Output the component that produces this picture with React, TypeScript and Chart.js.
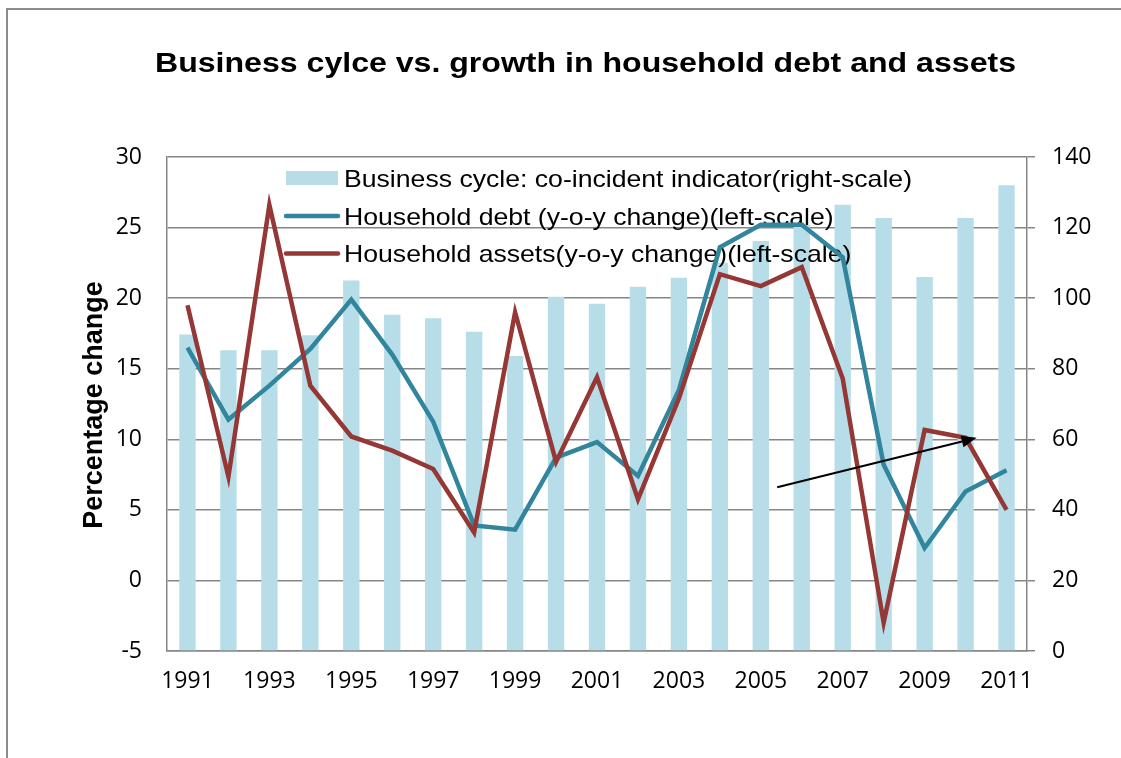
import React, { useEffect, useRef } from "react";
import { Chart, registerables } from "chart.js";

Chart.register(...registerables);

const years = ["1991","1992","1993","1994","1995","1996","1997","1998","1999","2000","2001","2002","2003","2004","2005","2006","2007","2008","2009","2010","2011"];
const cycleIndicator = [89.7, 85.2, 85.2, 89.5, 105, 95.3, 94.3, 90.5, 83.6, 100.4, 98.4, 103.2, 105.8, 110, 116.2, 120.7, 126.5, 122.7, 106, 122.7, 132];
const debtGrowth = [16.5, 11.4, 13.8, 16.4, 19.9, 16.0, 11.25, 3.9, 3.6, 8.7, 9.8, 7.4, 13.5, 23.6, 25.2, 25.2, 22.9, 8.2, 2.3, 6.3, 7.8];
const assetsGrowth = [19.5, 7.35, 26.6, 13.8, 10.2, 9.2, 7.9, 3.4, 19.0, 8.4, 14.4, 5.75, 12.9, 21.7, 20.85, 22.2, 14.3, -3.0, 10.66, 10.1, 5.0];
// arrow annotation in data space: [category index, left-scale value]
const arrowFrom = [14.4, 6.6];
const arrowTo = [19.27, 10.1];

const TITLE = "Business cylce vs. growth in household debt and assets";
const LEGEND_LABELS = [
  "Business cycle: co-incident indicator(right-scale)",
  "Household debt (y-o-y change)(left-scale)",
  "Household assets(y-o-y change)(left-scale)",
];
const BAR_COLOR = "#B7DEE8";
const DEBT_COLOR = "#31859C";
const ASSET_COLOR = "#953735";
const GRID = "#868686";

function stretchText(ctx: CanvasRenderingContext2D, text: string, x: number, y: number, sx: number) {
  ctx.save();
  ctx.translate(x, y);
  ctx.scale(sx, 1);
  ctx.fillText(text, 0, 0);
  ctx.restore();
}

const decorPlugin = {
  id: "decor",
  beforeDraw(chart: any) {
    const ctx = chart.ctx as CanvasRenderingContext2D;
    ctx.save();
    ctx.fillStyle = "#fff";
    ctx.fillRect(0, 0, chart.width, chart.height);
    // frame
    ctx.strokeStyle = "#8c8c8c";
    ctx.lineWidth = 2;
    ctx.beginPath();
    ctx.moveTo(7, chart.height);
    ctx.lineTo(7, 9);
    ctx.lineTo(chart.width, 9);
    ctx.stroke();
    // title
    ctx.fillStyle = "#000";
    ctx.font = "bold 27px 'Liberation Sans', Arial, sans-serif";
    ctx.textBaseline = "alphabetic";
    ctx.textAlign = "left";
    const tw = ctx.measureText(TITLE).width;
    stretchText(ctx, TITLE, 155, 72, 861 / tw);
    // y title
    ctx.save();
    ctx.translate(102, 405);
    ctx.rotate(-Math.PI / 2);
    ctx.font = "bold 27px 'Liberation Sans', Arial, sans-serif";
    ctx.textAlign = "center";
    ctx.textBaseline = "alphabetic";
    ctx.fillText("Percentage change", 0, 0);
    ctx.restore();
    ctx.restore();
  },
  afterDatasetDraw(chart: any, args: any) {
    if (args.index !== 0) return;
    const ctx = chart.ctx as CanvasRenderingContext2D;
    ctx.save();
    ctx.font = "24px 'Liberation Sans', Arial, sans-serif";
    ctx.textBaseline = "alphabetic";
    ctx.textAlign = "left";
    ctx.fillStyle = "#000";
    const w1 = ctx.measureText(LEGEND_LABELS[0]).width;
    const sx = 568 / w1;
    const baselines = [187, 224.5, 262];
    // swatches
    ctx.fillStyle = BAR_COLOR;
    ctx.fillRect(286, 171, 52, 14);
    ctx.lineCap = "round";
    ctx.lineWidth = 4.5;
    ctx.strokeStyle = DEBT_COLOR;
    ctx.beginPath();
    ctx.moveTo(286, 216);
    ctx.lineTo(338, 216);
    ctx.stroke();
    ctx.strokeStyle = ASSET_COLOR;
    ctx.beginPath();
    ctx.moveTo(286, 253.5);
    ctx.lineTo(338, 253.5);
    ctx.stroke();
    ctx.fillStyle = "#000";
    LEGEND_LABELS.forEach((t, i) => stretchText(ctx, t, 344, baselines[i], sx));
    ctx.restore();
  },
  afterDatasetsDraw(chart: any) {
    const ctx = chart.ctx as CanvasRenderingContext2D;
    const xs = chart.scales.x;
    const ys = chart.scales.y;
    const x1 = xs.getPixelForValue(arrowFrom[0]);
    const y1 = ys.getPixelForValue(arrowFrom[1]);
    const x2 = xs.getPixelForValue(arrowTo[0]);
    const y2 = ys.getPixelForValue(arrowTo[1]);
    const ang = Math.atan2(y2 - y1, x2 - x1);
    const hl = 15, hw = 6;
    ctx.save();
    ctx.strokeStyle = "#000";
    ctx.fillStyle = "#000";
    ctx.lineWidth = 2;
    ctx.beginPath();
    ctx.moveTo(x1, y1);
    ctx.lineTo(x2 - hl * Math.cos(ang), y2 - hl * Math.sin(ang));
    ctx.stroke();
    ctx.beginPath();
    ctx.moveTo(x2, y2);
    ctx.lineTo(x2 - hl * Math.cos(ang) - hw * Math.sin(ang), y2 - hl * Math.sin(ang) + hw * Math.cos(ang));
    ctx.lineTo(x2 - hl * Math.cos(ang) + hw * Math.sin(ang), y2 - hl * Math.sin(ang) - hw * Math.cos(ang));
    ctx.closePath();
    ctx.fill();
    ctx.restore();
  },
};

export default function App() {
  const ref = useRef<HTMLCanvasElement | null>(null);
  useEffect(() => {
    document.body.style.margin = "0";
    const canvas = ref.current!;
    const tickFont = { family: "'Open Sans', sans-serif", size: 23 };
    const chart = new Chart(canvas, {
      type: "bar",
      data: {
        labels: years,
        datasets: [
          {
            type: "bar",
            label: LEGEND_LABELS[0],
            data: cycleIndicator,
            backgroundColor: BAR_COLOR,
            yAxisID: "y1",
            barPercentage: 0.4,
            categoryPercentage: 1,
            order: 3,
          },
          {
            type: "line",
            label: LEGEND_LABELS[1],
            data: debtGrowth,
            borderColor: DEBT_COLOR,
            backgroundColor: DEBT_COLOR,
            borderWidth: 4.5,
            pointRadius: 0,
            tension: 0,
            yAxisID: "y",
            order: 2,
          },
          {
            type: "line",
            label: LEGEND_LABELS[2],
            data: assetsGrowth,
            borderColor: ASSET_COLOR,
            backgroundColor: ASSET_COLOR,
            borderWidth: 4.5,
            pointRadius: 0,
            tension: 0,
            yAxisID: "y",
            order: 1,
          },
        ] as any,
      },
      options: {
        responsive: false,
        animation: false,
        devicePixelRatio: 1,
        layout: { padding: { top: 157, left: 0, right: 0, bottom: 0 } },
        plugins: {
          legend: { display: false },
          title: { display: false },
          tooltip: { enabled: false },
        },
        scales: {
          x: {
            offset: true,
            grid: { display: false, drawTicks: false },
            border: { display: true, color: GRID, width: 1.5 },
            ticks: {
              autoSkip: false,
              maxRotation: 0,
              padding: 17,
              color: "#000",
              font: tickFont,
              callback: (_v: any, i: number) => (i % 2 === 0 ? years[i] : ""),
            },
            afterFit: (s: any) => { s.height = 107; },
          },
          y: {
            position: "left",
            min: -5,
            max: 30,
            ticks: { stepSize: 5, padding: 25, color: "#000", font: tickFont },
            grid: { color: GRID, lineWidth: 1.5, drawTicks: false },
            border: { display: true, color: GRID, width: 1.5 },
            afterFit: (s: any) => { s.width = 167; },
          },
          y1: {
            position: "right",
            min: 0,
            max: 140,
            ticks: { stepSize: 20, padding: 17, color: "#000", font: tickFont },
            grid: { drawOnChartArea: false, drawTicks: true, tickLength: 8, tickColor: GRID, lineWidth: 1.5, color: GRID },
            border: { display: true, color: GRID, width: 1.5 },
            afterFit: (s: any) => { s.width = 94; },
          },
        },
      } as any,
      plugins: [decorPlugin],
    });
    return () => chart.destroy();
  }, []);
  return <canvas ref={ref} width={1121} height={758} style={{ display: "block" }} />;
}
